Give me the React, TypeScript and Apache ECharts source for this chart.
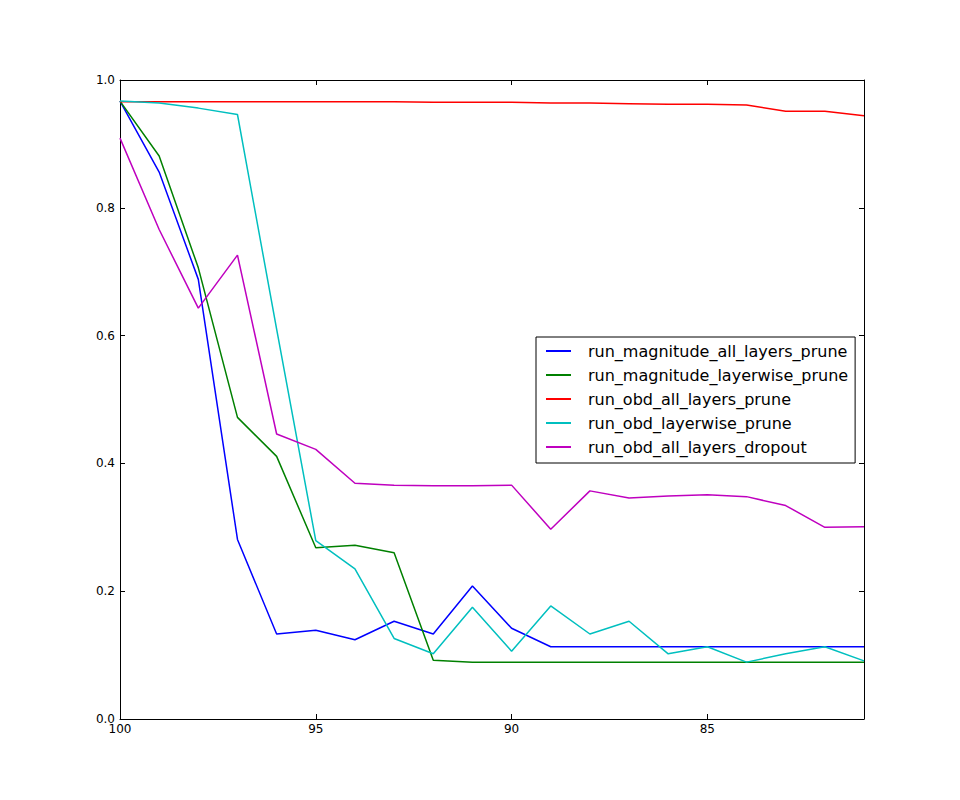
import React, { useEffect, useRef } from "react";
import * as echarts from "echarts";

const xValues = [100, 99, 98, 97, 96, 95, 94, 93, 92, 91, 90, 89, 88, 87, 86, 85, 84, 83, 82, 81];

const magnitudeAllLayers = [0.967, 0.856, 0.688, 0.281, 0.133, 0.139, 0.124, 0.153, 0.133, 0.208, 0.142, 0.113, 0.113, 0.113, 0.113, 0.113, 0.113, 0.113, 0.113, 0.113];
const magnitudeLayerwise = [0.967, 0.881, 0.706, 0.472, 0.411, 0.268, 0.272, 0.26, 0.092, 0.089, 0.089, 0.089, 0.089, 0.089, 0.089, 0.089, 0.089, 0.089, 0.089, 0.089];
const obdAllLayers = [0.966, 0.966, 0.966, 0.966, 0.966, 0.966, 0.966, 0.966, 0.965, 0.965, 0.965, 0.964, 0.964, 0.963, 0.962, 0.962, 0.961, 0.951, 0.951, 0.944];
const obdLayerwise = [0.967, 0.964, 0.956, 0.946, 0.61, 0.279, 0.235, 0.126, 0.102, 0.175, 0.106, 0.177, 0.133, 0.153, 0.102, 0.113, 0.089, 0.102, 0.113, 0.091];
const obdAllLayersDropout = [0.909, 0.766, 0.643, 0.726, 0.446, 0.422, 0.369, 0.366, 0.365, 0.365, 0.366, 0.297, 0.357, 0.346, 0.349, 0.351, 0.348, 0.334, 0.3, 0.301];

const seriesNames = [
  "run_magnitude_all_layers_prune",
  "run_magnitude_layerwise_prune",
  "run_obd_all_layers_prune",
  "run_obd_layerwise_prune",
  "run_obd_all_layers_dropout",
];
const seriesValues = [magnitudeAllLayers, magnitudeLayerwise, obdAllLayers, obdLayerwise, obdAllLayersDropout];
const seriesColors = ["#0000ff", "#008000", "#ff0000", "#00bfbf", "#bf00bf"];

const xTickValues = [100, 95, 90, 85];

export default function App() {
  const ref = useRef<HTMLDivElement>(null);

  useEffect(() => {
    if (!ref.current) return;
    const chart = echarts.init(ref.current, undefined, { renderer: "svg" });
    const font = "DejaVu Sans";
    const axisLine = { show: true, onZero: false, lineStyle: { color: "#000", width: 1 } };
    const xCommon = {
      type: "value" as const,
      min: 81,
      max: 100,
      inverse: true,
      axisLine,
      splitLine: { show: false },
      axisTick: { show: true, inside: true, length: 5, lineStyle: { color: "#000" }, customValues: xTickValues },
    };
    const yCommon = {
      type: "value" as const,
      min: 0,
      max: 1,
      interval: 0.2,
      axisLine,
      splitLine: { show: false },
      axisTick: { show: true, inside: true, length: 5, lineStyle: { color: "#000" } },
    };
    chart.setOption({
      animation: false,
      backgroundColor: "#ffffff",
      grid: { left: 120, right: 96, top: 80, bottom: 81, containLabel: false },
      legend: {
        orient: "vertical",
        left: 536,
        top: 337,
        data: seriesNames,
        icon: "rect",
        itemWidth: 25,
        itemHeight: 2,
        itemGap: 8,
        padding: [6, 7, 8, 10],
        backgroundColor: "#ffffff",
        borderColor: "#000000",
        borderWidth: 1,
        borderRadius: 0,
        textStyle: { fontFamily: font, fontSize: 16, color: "#000", lineHeight: 16, padding: [0, 0, 0, 12] },
      },
      xAxis: [
        {
          ...xCommon,
          position: "bottom",
          axisLabel: {
            show: true,
            customValues: xTickValues,
            margin: 4,
            color: "#000",
            fontFamily: font,
            fontSize: 12,
            formatter: (v: number) => String(v),
          },
        },
        {
          ...xCommon,
          position: "top",
          axisLabel: { show: false },
        },
      ],
      yAxis: [
        {
          ...yCommon,
          position: "left",
          axisLabel: {
            show: true,
            margin: 5,
            color: "#000",
            fontFamily: font,
            fontSize: 12,
            formatter: (v: number) => v.toFixed(1),
          },
        },
        {
          ...yCommon,
          position: "right",
          axisLabel: { show: false },
        },
      ],
      series: seriesNames.map((name, si) => ({
        name,
        type: "line",
        xAxisIndex: 0,
        yAxisIndex: 0,
        showSymbol: false,
        symbol: "none",
        color: seriesColors[si],
        lineStyle: { color: seriesColors[si], width: 1.5 },
        data: xValues.map((x, i) => [x, seriesValues[si][i]]),
      })),
    });
    return () => chart.dispose();
  }, []);

  return (
    <div
      ref={ref}
      style={{ position: "fixed", left: 0, top: 0, width: 960, height: 800, background: "#fff" }}
    />
  );
}
